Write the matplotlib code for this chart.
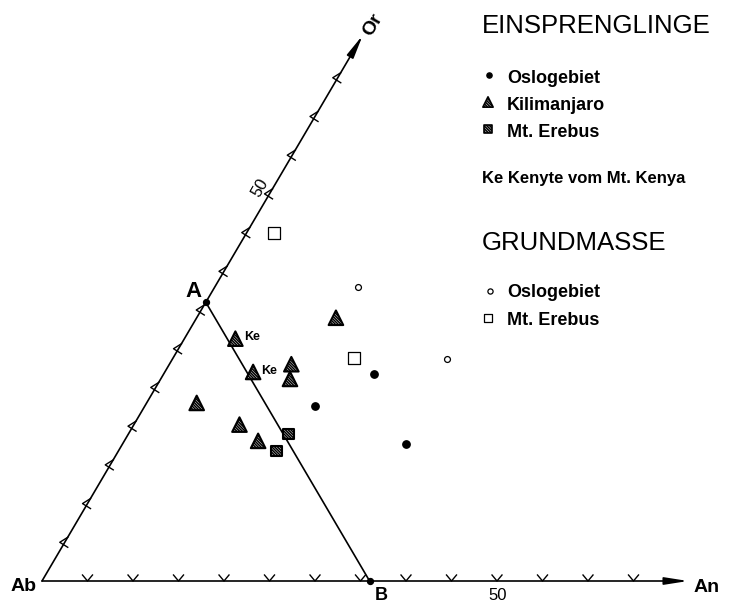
import numpy as np
import matplotlib
matplotlib.use('Agg')
import matplotlib.pyplot as plt

plt.rcParams['font.family'] = ['Liberation Sans', 'DejaVu Sans']
plt.rcParams['hatch.linewidth'] = 1.1

# values in % (An, Or), Ab is the rest
# Einsprenglinge
oslo_ein_an = [23.1, 18.7, 31.1]
oslo_ein_or = [26.7, 22.6, 17.7]

kili_an = [15.3, 5.6, 9.7, 13.4, 14.2, 5.5, 11.6, 14.7]
kili_or = [34.0, 31.3, 27.0, 28.0, 26.1, 23.0, 20.2, 18.1]
kenyte_idx = [1, 2]  # Kenyte vom Mt. Kenya

erebus_ein_an = [17.6, 17.4]
erebus_ein_or = [19.0, 16.8]

# Grundmasse
oslo_gm_an = [15.7, 30.2]
oslo_gm_or = [38.0, 28.7]

erebus_gm_an = [3.0, 19.9]
erebus_gm_or = [45.0, 28.8]

tick_values = [5, 10, 15, 20, 25, 30, 35, 40, 45, 50, 55, 60, 65]
axis_max = 71
a_or = 36   # point A on Ab-Or
b_an = 36   # point B on Ab-An

SX, SY = 9.1, 8.94   # px per unit
W, H = 729, 603
HATCH = '\\' * 12


def tern(an, or_):
    an = np.asarray(an, float)
    or_ = np.asarray(or_, float)
    return an + or_ * 0.5, or_ * np.sqrt(3) / 2


def fp(px, py):
    return px / W, 1 - py / H


fig = plt.figure(figsize=(W / 100, H / 100), dpi=100)
ax = fig.add_axes([0, 0, 1, 1])
ax.set_xlim(-42 / SX, (W - 42) / SX)
ax.set_ylim(-(H - 581) / SY, 581 / SY)
ax.axis('off')

arrow = dict(arrowstyle='-|>,head_length=1.4,head_width=0.22', lw=1.2,
             color='black', shrinkA=0, shrinkB=0, mutation_scale=10)
o = tern(0, 0)
an_tip = tern(axis_max, 0)
or_tip = tern(0, axis_max - 0.5)
ax.annotate('', xy=an_tip, xytext=o, arrowprops=arrow)
ax.annotate('', xy=or_tip, xytext=o, arrowprops=arrow)

# ticks
for t in tick_values:
    x, y = tern(t, 0)
    ax.plot([x - 5 / SX, x, x + 5 / SX], [y + 6 / SY, y, y + 6 / SY],
            color='black', lw=1.0)
    x, y = tern(0, t)
    ax.plot([x + 3 / SX, x - 5 / SX, x + 3 / SX], [y + 5 / SY, y, y - 5 / SY],
            color='black', lw=1.0)

# line A - B
ax_, ay_ = tern(0, a_or)
bx_, by_ = tern(b_an, 0)
ax.plot([ax_, bx_], [ay_, by_], color='black', lw=1.2)
ax.scatter([ax_, bx_], [ay_, by_], s=18, color='black', zorder=5)

# data
x, y = tern(oslo_ein_an, oslo_ein_or)
ax.scatter(x, y, s=28, color='black', zorder=4)
x, y = tern(kili_an, kili_or)
ax.scatter(x, y, s=110, marker='^', facecolor='white', edgecolor='black',
           linewidth=1.5, hatch=HATCH, zorder=4)
for i in kenyte_idx:
    ax.annotate('Ke', (x[i], y[i]), xytext=(6, 1), textcoords='offset points',
                fontsize=9, fontweight='bold', va='center')
x, y = tern(erebus_ein_an, erebus_ein_or)
ax.scatter(x, y, s=60, marker='s', facecolor='white', edgecolor='black',
           linewidth=1.5, hatch=HATCH, zorder=4)
x, y = tern(oslo_gm_an, oslo_gm_or)
ax.scatter(x, y, s=18, facecolor='white', edgecolor='black', linewidth=0.9,
           zorder=4)
x, y = tern(erebus_gm_an, erebus_gm_or)
ax.scatter(x, y, s=64, marker='s', facecolor='white', edgecolor='black',
           linewidth=0.9, zorder=4)

# axis labels
lab = dict(fontsize=14, fontweight='bold', textcoords='offset points')
ax.annotate('Ab', o, xytext=(-3.6, -7.2), ha='right', va='baseline', **lab)
ax.annotate('An', an_tip, xytext=(3.6, -7.9), ha='left', va='baseline', **lab)
ax.annotate('Or', or_tip, xytext=(7.2, 7.2), ha='center', va='center',
            rotation=60, **lab)
ax.annotate('A', (ax_, ay_), xytext=(-2.9, 3.6), ha='right', va='baseline',
            fontsize=16, fontweight='bold', textcoords='offset points')
ax.annotate('B', (bx_, by_), xytext=(3.6, -4.5), ha='left', va='top',
            fontsize=13, fontweight='bold', textcoords='offset points')
ax.annotate('50', tern(0, 50), xytext=(-6.8, 4.3), textcoords='offset points',
            ha='center', va='center', rotation=60, fontsize=12)
ax.annotate('50', tern(50, 0), xytext=(0.7, -10.8), textcoords='offset points',
            ha='center', va='center', fontsize=12)

# legend
fig.text(*fp(482, 33), 'EINSPRENGLINGE', fontsize=18.5, va='baseline')
fig.text(*fp(482, 250), 'GRUNDMASSE', fontsize=18.5, va='baseline')
ent = dict(fontsize=13, fontweight='bold', va='baseline')
fig.text(*fp(507, 83), 'Oslogebiet', **ent)
fig.text(*fp(507, 110), 'Kilimanjaro', **ent)
fig.text(*fp(507, 137), 'Mt. Erebus', **ent)
fig.text(*fp(482, 183), 'Ke Kenyte vom Mt. Kenya', fontsize=12,
         fontweight='bold', va='baseline')
fig.text(*fp(507, 297), 'Oslogebiet', **ent)
fig.text(*fp(507, 325), 'Mt. Erebus', **ent)

tf = fig.transFigure
ax.scatter(*fp(489, 75), s=14, color='black', transform=tf)
ax.scatter(*fp(488, 102), s=55, marker='^', facecolor='white',
           edgecolor='black', linewidth=1.2, hatch=HATCH, transform=tf)
ax.scatter(*fp(488, 129), s=40, marker='s', facecolor='white',
           edgecolor='black', linewidth=1.2, hatch=HATCH, transform=tf)
ax.scatter(*fp(490, 291), s=14, facecolor='white', edgecolor='black',
           linewidth=0.9, transform=tf)
ax.scatter(*fp(488, 318), s=40, marker='s', facecolor='white',
           edgecolor='black', linewidth=0.9, transform=tf)

fig.savefig('out.png', dpi=100)
